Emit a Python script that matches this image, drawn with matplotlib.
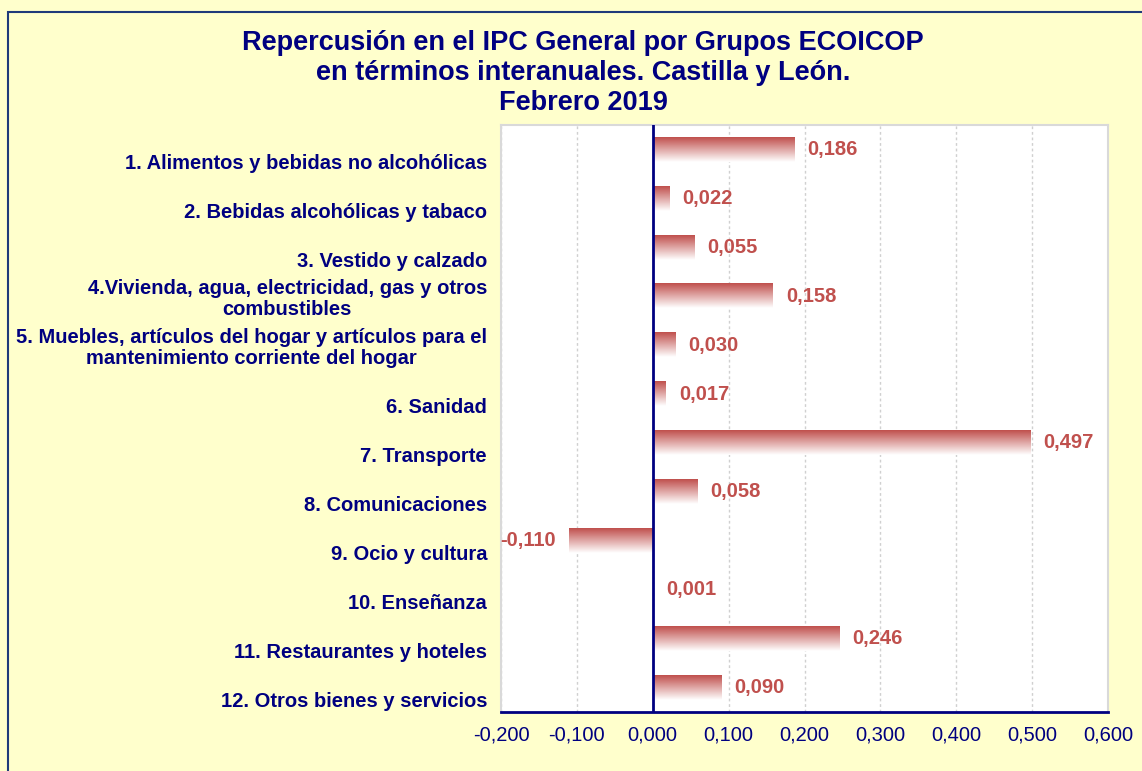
import numpy as np
import matplotlib
matplotlib.use("Agg")
import matplotlib.pyplot as plt
from matplotlib.patches import Rectangle
from matplotlib.ticker import FuncFormatter, MultipleLocator

categories = ["1. Alimentos y bebidas no alcohólicas",
              "2. Bebidas alcohólicas y tabaco",
              "3. Vestido y calzado",
              "4.Vivienda, agua, electricidad, gas y otros\ncombustibles",
              "5. Muebles, artículos del hogar y artículos para el\nmantenimiento corriente del hogar",
              "6. Sanidad",
              "7. Transporte",
              "8. Comunicaciones",
              "9. Ocio y cultura",
              "10. Enseñanza",
              "11. Restaurantes y hoteles",
              "12. Otros bienes y servicios"]
values = [0.186, 0.022, 0.055, 0.158, 0.030, 0.017, 0.497, 0.058, -0.110, 0.001, 0.246, 0.090]
title = "Repercusión en el IPC General por Grupos ECOICOP\nen términos interanuales. Castilla y León.\nFebrero 2019"

navy = "#000080"
bar_col = "#C0504D"
bg = "#FFFFCC"

plt.rcParams['font.family'] = ['Liberation Sans', 'DejaVu Sans']

fig = plt.figure(figsize=(11.42, 7.71), dpi=100, facecolor=bg)
# outer frame
fig.patches.append(Rectangle((8/1142, -0.05), 1.2, 1 - 12/771 + 0.05, transform=fig.transFigure,
                             fill=False, edgecolor="#1F3A7A", lw=1.5))
ax = fig.add_axes([501/1142, 1 - 712/771, (1108-501)/1142, (712-125)/771])
ax.set_facecolor("white")

y = np.arange(len(categories))
bars = ax.barh(y, values, height=0.5, color="none", edgecolor="none", zorder=3)

# vertical gradient: dark on top, white at bottom
grad = np.linspace(0, 1, 100).reshape(-1, 1)
cmap = matplotlib.colors.LinearSegmentedColormap.from_list("g", [bar_col, "#FFFFFF"])
for b in bars:
    x0, x1 = b.get_x(), b.get_x() + b.get_width()
    y0, y1 = b.get_y(), b.get_y() + b.get_height()
    ax.imshow(grad, extent=(min(x0, x1), max(x0, x1), y1, y0), cmap=cmap,
              aspect="auto", zorder=3, interpolation="bilinear")

ax.set_xlim(-0.2, 0.6)
ax.set_ylim(len(categories) - 0.5, -0.5)
ax.xaxis.set_major_locator(MultipleLocator(0.1))
ax.xaxis.set_major_formatter(FuncFormatter(lambda v, p: ("%.3f" % v).replace(".", ",")))
ax.grid(axis="x", color="#D0D0D0", linestyle=(0, (2, 2)), lw=1, zorder=0)
ax.axvline(0, color=navy, lw=2, zorder=4)

for s in ["top", "right", "left"]:
    ax.spines[s].set_color("#D9D9D9")
    ax.spines[s].set_linewidth(1.5)
ax.spines["bottom"].set_color(navy)
ax.spines["bottom"].set_linewidth(2)

ax.tick_params(axis="x", length=0, pad=10, labelsize=14.5, labelcolor=navy)
ax.tick_params(axis="y", length=0, pad=10)
ax.set_yticks(y)
ylabels = [c if "\n" in c else "\n" + c for c in categories]
ax.set_yticklabels(ylabels, fontsize=14.5, fontweight="bold", color=navy,
                   multialignment="center", linespacing=1.15)

for yi, v in zip(y, values):
    txt = ("%.3f" % v).replace(".", ",")
    off = 9.5 if v >= 0 else -9.5
    ax.annotate(txt, (v, yi), xytext=(off, 0), textcoords="offset points",
                ha="left" if v >= 0 else "right", va="center", fontsize=14.5,
                fontweight="bold", color=bar_col, annotation_clip=False, zorder=5)

fig.text(583/1142, 1 - 73/771, title, ha="center", va="center", fontsize=19.5,
         fontweight="bold", color=navy, linespacing=1.22)

fig.savefig("out.png", dpi=100, facecolor=bg)
